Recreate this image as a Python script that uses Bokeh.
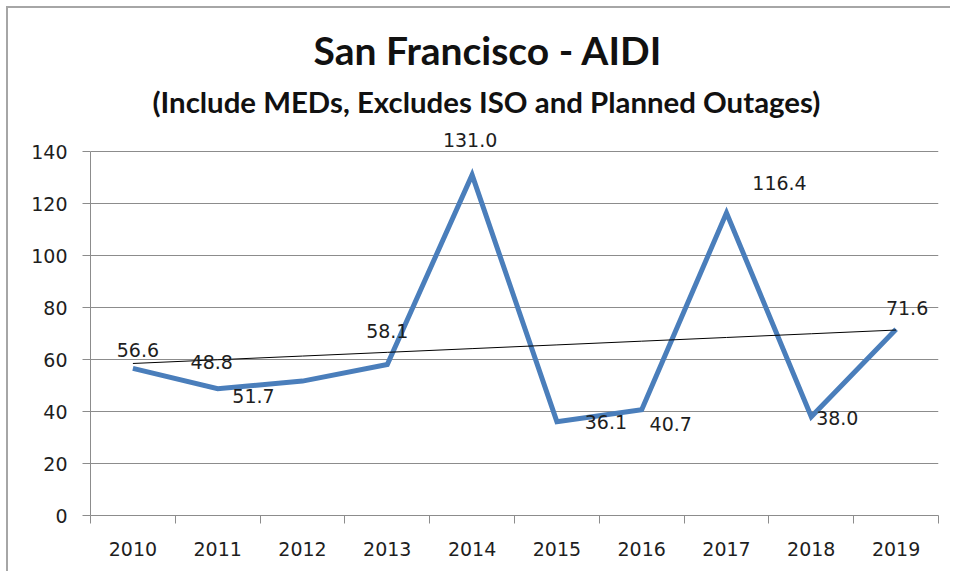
import numpy as np
from bokeh.plotting import figure
from bokeh.models import (ColumnDataSource, Range1d, FixedTicker, LabelSet, Title)
from bokeh.core.properties import value
from bokeh.embed import file_html
from bokeh.resources import INLINE

# ---- data ----
years = ["2010", "2011", "2012", "2013", "2014", "2015", "2016", "2017", "2018", "2019"]
aidi = [56.6, 48.8, 51.7, 58.1, 131.0, 36.1, 40.7, 116.4, 38.0, 71.6]
y_ticks = [0, 20, 40, 60, 80, 100, 120, 140]
title_text = "San Francisco - AIDI"
subtitle_text = "(Include MEDs, Excludes ISO and Planned Outages)"

# ---- label placement (pixels, as in the original chart) ----
label_dx = [5, -6, -49, 0, -2, 49, 29, 53, 26, 11]
label_dy = [18, 27, -15, 33, 35, 0, -14, 30, -1, 21]

n = len(years)
xs = np.arange(n) + 0.5
slope, intercept = np.polyfit(np.arange(n), np.array(aidi), 1)
trend = intercept + slope * np.arange(n)

BLUE = "#4a7ebb"
GRID = "#8c8c8c"
TXT = "#1e1e1e"
NUMFONT = "DejaVu Sans"
NUMSIZE = "19px"

p = figure(width=944, height=565, output_backend="svg", toolbar_location=None,
           x_range=Range1d(0, n), y_range=Range1d(0, 150),
           min_border_left=82, min_border_right=14, min_border_top=117, min_border_bottom=58)
p.styles = {"margin-left": "6px", "margin-top": "6px",
            "border-left": "2px solid #a6a6a6", "border-top": "2px solid #a6a6a6"}
p.outline_line_color = None
p.background_fill_color = "white"
p.border_fill_color = "white"

# axes
p.xaxis.ticker = FixedTicker(ticks=list(xs), minor_ticks=list(range(n + 1)))
p.xaxis.major_label_overrides = {float(x): yr for x, yr in zip(xs, years)}
p.xaxis.major_tick_line_color = None
p.xaxis.major_tick_out = 8
p.xaxis.major_tick_in = 0
p.xaxis.minor_tick_out = 8
p.xaxis.minor_tick_in = 0
p.xaxis.minor_tick_line_color = GRID
p.xaxis.axis_line_color = GRID
p.xaxis.major_label_standoff = 18

p.yaxis.ticker = FixedTicker(ticks=y_ticks)
p.yaxis.bounds = (y_ticks[0], y_ticks[-1])
p.yaxis.major_tick_out = 8
p.yaxis.major_tick_in = 0
p.yaxis.minor_tick_line_color = None
p.yaxis.major_tick_line_color = GRID
p.yaxis.axis_line_color = GRID
p.yaxis.major_label_standoff = 15

for ax in (p.xaxis, p.yaxis):
    ax.major_label_text_font = NUMFONT
    ax.major_label_text_font_size = NUMSIZE
    ax.major_label_text_color = TXT

p.xgrid.grid_line_color = None
p.ygrid.ticker = FixedTicker(ticks=y_ticks)
p.ygrid.grid_line_color = GRID
p.ygrid.grid_line_width = 1

# series
src = ColumnDataSource(dict(x=xs, y=aidi, t=[f"{v:.1f}" for v in aidi],
                            dx=label_dx, dy=label_dy))
p.line(x="x", y="y", source=src, line_color=BLUE, line_width=5, line_join="miter")
p.line(x=xs, y=trend, line_color="black", line_width=1)

labels = LabelSet(x="x", y="y", text="t", source=src, x_offset="dx", y_offset="dy",
                  text_align="center", text_baseline="middle",
                  text_font=value(NUMFONT), text_font_size=value(NUMSIZE),
                  text_color=TXT)
p.add_layout(labels)

# titles (first added sits closest to the plot)
p.add_layout(Title(text=subtitle_text, align="left", offset=62,
                   text_font="Lato", text_font_style="bold", text_font_size="29.4px",
                   text_color="#111111", standoff=14), "above")
p.add_layout(Title(text=title_text, align="left", offset=223,
                   text_font="Lato", text_font_style="bold", text_font_size="39px",
                   text_color="#111111", standoff=4), "above")

open("out.html", "w").write(file_html(p, INLINE))
